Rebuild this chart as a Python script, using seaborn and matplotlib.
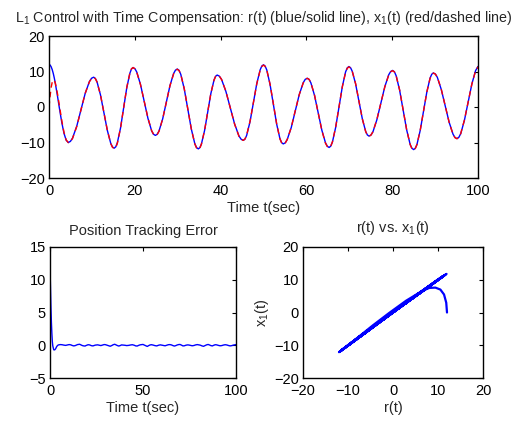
import numpy as np
import pandas as pd
import matplotlib
matplotlib.use("Agg")
import matplotlib.pyplot as plt
import seaborn as sns

# ---------------- data ----------------
t = [0, 0.25, 0.5, 0.75, 1.0, 1.25, 1.5, 2.0, 2.5, 3.0, 3.5, 4.0, 4.5,
     4.99, 5.48, 6.47, 7.45, 8.43, 9.42, 9.91, 10.4,
     10.8, 11.2, 12.0, 12.8, 13.6, 14.4, 14.8, 15.2,
     15.57, 15.93, 16.67, 17.4, 18.13, 18.87, 19.23, 19.6,
     20.03, 20.47, 21.33, 22.2, 23.07, 23.93, 24.37, 24.8,
     25.23, 25.65, 26.5, 27.35, 28.2, 29.05, 29.48, 29.9,
     30.31, 30.72, 31.53, 32.35, 33.17, 33.98, 34.39, 34.8,
     35.17, 35.53, 36.27, 37.0, 37.73, 38.47, 38.83, 39.2,
     39.71, 40.22, 41.23, 42.25, 43.27, 44.28, 44.79, 45.3,
     45.69, 46.08, 46.87, 47.65, 48.43, 49.22, 49.61, 50.0,
     50.38, 50.77, 51.53, 52.3, 53.07, 53.83, 54.22, 54.6,
     55.07, 55.53, 56.47, 57.4, 58.33, 59.27, 59.73, 60.2,
     60.63, 61.05, 61.9, 62.75, 63.6, 64.45, 64.88, 65.3,
     65.68, 66.07, 66.83, 67.6, 68.37, 69.13, 69.52, 69.9,
     70.29, 70.68, 71.47, 72.25, 73.03, 73.82, 74.21, 74.6,
     75.06, 75.52, 76.43, 77.35, 78.27, 79.18, 79.64, 80.1,
     80.51, 80.92, 81.73, 82.55, 83.37, 84.18, 84.59, 85.0,
     85.38, 85.77, 86.53, 87.3, 88.07, 88.83, 89.22, 89.6,
     90.06, 90.52, 91.43, 92.35, 93.27, 94.18, 94.64, 95.1,
     95.53, 95.97, 96.83, 97.7, 98.57, 99.43, 100.0]

r = [12.0, 11.83, 11.34, 10.53, 9.43, 8.07, 6.5, 2.91, -0.91, -4.5, -7.43, -9.34, -10.0,
     -9.69, -8.77, -5.4, -0.8, 3.8, 7.17, 8.09, 8.4,
     8.06, 7.06, 3.4, -1.6, -6.6, -10.26, -11.26, -11.6,
     -11.21, -10.08, -5.93, -0.25, 5.43, 9.58, 10.71, 11.1,
     10.78, 9.82, 6.33, 1.55, -3.23, -6.72, -7.68, -8.0,
     -7.68, -6.75, -3.33, 1.35, 6.03, 9.45, 10.38, 10.7,
     10.32, 9.19, 5.08, -0.55, -6.18, -10.29, -11.42, -11.8,
     -11.45, -10.41, -6.6, -1.4, 3.8, 7.61, 8.65, 9.0,
     8.69, 7.77, 4.4, -0.2, -4.8, -8.17, -9.09, -9.4,
     -9.04, -7.97, -4.08, 1.25, 6.58, 10.47, 11.54, 11.9,
     11.52, 10.41, 6.33, 0.75, -4.83, -8.91, -10.02, -10.4,
     -10.09, -9.16, -5.78, -1.15, 3.48, 6.86, 7.79, 8.1,
     7.77, 6.79, 3.23, -1.65, -6.53, -10.09, -11.07, -11.4,
     -11.01, -9.87, -5.7, 0.0, 5.7, 9.87, 11.01, 11.4,
     11.07, 10.09, 6.5, 1.6, -3.3, -6.89, -7.87, -8.2,
     -7.89, -6.96, -3.58, 1.05, 5.68, 9.06, 9.99, 10.3,
     9.92, 8.81, 4.73, -0.85, -6.43, -10.51, -11.62, -12.0,
     -11.63, -10.55, -6.6, -1.2, 4.2, 8.15, 9.23, 9.6,
     9.29, 8.36, 4.98, 0.35, -4.28, -7.66, -8.59, -8.9,
     -8.55, -7.53, -3.78, 1.35, 6.48, 10.23, 11.43]

# tracking error e(t) = r(t) - x1(t)
err = [12.0, 8.83, 5.84, 3.53, 1.83, 0.57, -0.1, -0.69, -0.71, -0.55, -0.25, -0.05, 0.05,
       0.08, 0.1, 0.08, 0.02, -0.02, 0.05, 0.08, 0.1,
       0.08, 0.06, -0.04, -0.1, -0.05, 0.05, 0.1, 0.12,
       0.14, 0.15, 0.05, -0.05, -0.1, -0.12, -0.06, -0.02,
       0.04, 0.08, 0.05, -0.06, -0.1, -0.02, 0.02, 0.04,
       0.05, 0.06, 0.0, -0.05, 0.02, 0.1, 0.1, 0.08,
       0.04, 0.0, -0.08, -0.15, -0.05, 0.08, 0.12, 0.15,
       0.1, 0.05, -0.05, -0.12, -0.05, 0.05, 0.04, 0.03,
       0.02, 0.0, -0.05, -0.02, 0.04, 0.08, 0.04, 0.0,
       -0.05, -0.1, -0.12, -0.02, 0.06, 0.1, 0.11, 0.12,
       0.07, 0.02, -0.1, -0.18, -0.05, 0.05, 0.07, 0.08,
       0.05, 0.02, -0.06, -0.1, 0.0, 0.06, 0.04, 0.02,
       -0.01, -0.04, -0.08, 0.0, 0.08, 0.1, 0.08, 0.05,
       0.0, -0.05, -0.12, -0.06, 0.04, 0.1, 0.11, 0.12,
       0.07, 0.02, -0.1, -0.08, 0.0, 0.05, 0.05, 0.04,
       0.01, -0.02, -0.08, -0.04, 0.05, 0.1, 0.08, 0.06,
       0.03, 0.0, -0.1, -0.16, -0.05, 0.06, 0.09, 0.12,
       0.08, 0.04, -0.06, -0.1, 0.0, 0.08, 0.07, 0.06,
       0.02, -0.02, -0.08, -0.05, 0.03, 0.08, 0.06, 0.04,
       0.0, -0.04, -0.1, -0.06, 0.02, 0.06, 0.1]

top_xticks = [0, 20, 40, 60, 80, 100]
top_yticks = [-20, -10, 0, 10, 20]
err_xticks = [0, 50, 100]
err_yticks = [-5, 0, 5, 10, 15]
phase_ticks = [-20, -10, 0, 10, 20]

n = min(len(t), len(r), len(err))
df = pd.DataFrame({"t": t[:n], "r": r[:n], "e": err[:n]})
df["x1"] = df["r"] - df["e"]

# ---------------- style ----------------
sns.set_style("white")
plt.rcParams["font.family"] = ["Liberation Sans", "DejaVu Sans"]
plt.rcParams["mathtext.fontset"] = "custom"
plt.rcParams["mathtext.rm"] = "Liberation Sans"
plt.rcParams["mathtext.it"] = "Liberation Sans"
plt.rcParams["font.size"] = 10.5
plt.rcParams["axes.unicode_minus"] = True
plt.rcParams["lines.solid_joinstyle"] = "round"
plt.rcParams["lines.dash_joinstyle"] = "round"

FS = 10.5
fig = plt.figure(figsize=(5.30, 4.22), dpi=100)
fig.patch.set_facecolor("white")

W, H = 530.0, 422.0
def axes_px(l, t_, r_, b):
    return fig.add_axes([l / W, 1 - b / H, (r_ - l) / W, (b - t_) / H])

ax1 = axes_px(49, 36, 478, 178)
ax2 = axes_px(50, 247, 236, 378)
ax3 = axes_px(303, 247, 483, 378)

def matlab_axes(ax):
    for s in ax.spines.values():
        s.set_visible(True)
        s.set_color("black")
        s.set_linewidth(1.0)
    ax.tick_params(direction="in", length=3, width=0.8, top=True, right=True,
                   labelsize=FS, colors="black")
    ax.tick_params(axis="x", pad=4.5)
    ax.tick_params(axis="y", pad=3)
    ax.set_facecolor("white")
    ax.grid(False)

# top: r(t) blue solid, x1(t) red dashed
sns.lineplot(data=df, x="t", y="r", ax=ax1, color=(0, 0, 1), linewidth=1.0,
             estimator=None, sort=False)
sns.lineplot(data=df, x="t", y="x1", ax=ax1, color=(1, 0, 0), linewidth=1.0,
             linestyle=(0, (4, 3)), estimator=None, sort=False)
ax1.set_xlim(0, 100)
ax1.set_ylim(-20, 20)
ax1.set_xticks(top_xticks)
ax1.set_yticks(top_yticks)
ax1.set_xlabel("Time t(sec)", fontsize=FS, labelpad=2)
ax1.set_ylabel("")
ax1.set_title(r"L$_1$ Control with Time Compensation: r(t) (blue/solid line), x$_1$(t) (red/dashed line)",
              fontsize=10.3, pad=10)
matlab_axes(ax1)

# bottom left: tracking error
sns.lineplot(data=df, x="t", y="e", ax=ax2, color=(0, 0, 1), linewidth=1.0,
             estimator=None, sort=False)
ax2.set_xlim(0, 100)
ax2.set_ylim(-5, 15)
ax2.set_xticks(err_xticks)
ax2.set_yticks(err_yticks)
ax2.set_xlabel("Time t(sec)", fontsize=FS, labelpad=2)
ax2.set_ylabel("")
ax2.set_title("Position Tracking Error", fontsize=FS, pad=9)
matlab_axes(ax2)

# bottom right: r vs x1
sns.lineplot(data=df, x="r", y="x1", ax=ax3, color=(0, 0, 1), linewidth=1.6,
             estimator=None, sort=False)
ax3.set_xlim(-20, 20)
ax3.set_ylim(-20, 20)
ax3.set_xticks(phase_ticks)
ax3.set_yticks(phase_ticks)
ax3.set_xlabel("r(t)", fontsize=FS, labelpad=2)
ax3.set_ylabel(r"x$_1$(t)", fontsize=FS, labelpad=2)
ax3.set_title(r"r(t) vs. x$_1$(t)", fontsize=FS, pad=11)
matlab_axes(ax3)

fig.savefig("out.png", dpi=100, facecolor="white")
